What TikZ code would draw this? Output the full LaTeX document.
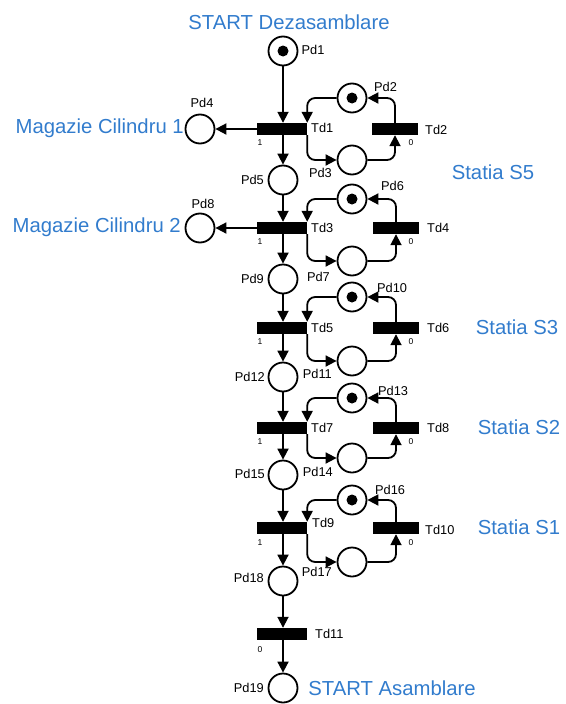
\documentclass[tikz,border=0pt]{standalone}
\usepackage{fontspec}
\setmainfont{Liberation Sans}
\usetikzlibrary{arrows.meta}
\definecolor{titleblue}{RGB}{50,124,205}
\tikzset{
  place/.style={circle,draw,line width=1.8pt,minimum size=29pt,inner sep=0pt},
  token/.style={path picture={\fill (path picture bounding box.center) circle (5.5pt);}},
  trans/.style={rectangle,fill=black,minimum height=12pt,inner sep=0pt},
  mainT/.style={trans,minimum width=50pt},
  sideT/.style={trans,minimum width=46pt},
  arc/.style={line width=1.8pt,-{Triangle[length=11pt,width=11pt]}},
  loop/.style={arc,rounded corners=8pt},
  lbl/.style={font=\fontsize{12.8}{14}\selectfont,inner sep=0pt},
  num/.style={font=\fontsize{8.5}{9}\selectfont,inner sep=0pt},
  caption/.style={font=\fontsize{20.3}{23}\selectfont,text=titleblue,inner sep=0pt}
}
\begin{document}
\begin{tikzpicture}[x=1pt,y=-1pt]
\useasboundingbox (0,0) rectangle (565,704);

% main column of places and transitions
\node[place,token] (Pd1)  at (283,51)  {};
\node[mainT]       (Td1)  at (282,129) {};
\node[place]       (Pd5)  at (283,180) {};
\node[mainT]       (Td3)  at (282,228) {};
\node[place]       (Pd9)  at (283,279) {};
\node[mainT]       (Td5)  at (282,328) {};
\node[place]       (Pd12) at (283,377) {};
\node[mainT]       (Td7)  at (282,428) {};
\node[place]       (Pd15) at (283,475) {};
\node[mainT]       (Td9)  at (282,528) {};
\node[place]       (Pd18) at (283,581) {};
\node[mainT]       (Td11) at (282,634) {};
\node[place]       (Pd19) at (283,688) {};

% storage places on the left
\node[place] (Pd4) at (200,129) {};
\node[place] (Pd8) at (200,228) {};

% station loops
\node[place,token] (Pd2)  at (352,98)  {};
\node[place]       (Pd3)  at (352,160) {};
\node[sideT]       (Td2)  at (395,129) {};
\node[place,token] (Pd6)  at (352,199) {};
\node[place]       (Pd7)  at (352,261) {};
\node[sideT]       (Td4)  at (396,228) {};
\node[place,token] (Pd10) at (352,297) {};
\node[place]       (Pd11) at (352,361) {};
\node[sideT]       (Td6)  at (396,328) {};
\node[place,token] (Pd13) at (352,398) {};
\node[place]       (Pd14) at (352,458) {};
\node[sideT]       (Td8)  at (396,428) {};
\node[place,token] (Pd16) at (352,500) {};
\node[place]       (Pd17) at (352,562) {};
\node[sideT]       (Td10) at (396,528) {};

% main flow arcs
\draw[arc] (Pd1)  -- (Pd1 |- Td1.north);
\draw[arc] (Pd1 |- Td1.south) -- (Pd5);
\draw[arc] (Pd5)  -- (Pd5 |- Td3.north);
\draw[arc] (Pd5 |- Td3.south) -- (Pd9);
\draw[arc] (Pd9)  -- (Pd9 |- Td5.north);
\draw[arc] (Pd9 |- Td5.south) -- (Pd12);
\draw[arc] (Pd12) -- (Pd12 |- Td7.north);
\draw[arc] (Pd12 |- Td7.south) -- (Pd15);
\draw[arc] (Pd15) -- (Pd15 |- Td9.north);
\draw[arc] (Pd15 |- Td9.south) -- (Pd18);
\draw[arc] (Pd18) -- (Pd18 |- Td11.north);
\draw[arc] (Pd18 |- Td11.south) -- (Pd19);
\draw[arc] (Td1.west) -- (Pd4);
\draw[arc] (Td3.west) -- (Pd8);

% resource loops of the stations
\foreach \tm/\ts/\pu/\pl in {Td1/Td2/Pd2/Pd3, Td3/Td4/Pd6/Pd7, Td5/Td6/Pd10/Pd11,
                             Td7/Td8/Pd13/Pd14, Td9/Td10/Pd16/Pd17}{
  \draw[loop] (\pu.west) -| (\tm.north east);
  \draw[loop] (\tm.south east) |- (\pl.west);
  \draw[loop] (\pl.east) -| (\ts.south);
  \draw[loop] (\ts.north) |- (\pu.east);
}

% place labels
\node[lbl] at (313,50)  {Pd1};
\node[lbl,anchor=west] at (374,87)  {Pd2};
\node[lbl,anchor=east] at (332,173) {Pd3};
\node[lbl] at (202,103) {Pd4};
\node[lbl,anchor=east] at (264,180) {Pd5};
\node[lbl,anchor=west] at (381,186) {Pd6};
\node[lbl,anchor=east] at (330,277) {Pd7};
\node[lbl] at (203,204) {Pd8};
\node[lbl,anchor=east] at (264,279) {Pd9};
\node[lbl,anchor=west] at (377,288) {Pd10};
\node[lbl,anchor=east] at (332,374) {Pd11};
\node[lbl,anchor=east] at (265,377) {Pd12};
\node[lbl,anchor=west] at (378,391) {Pd13};
\node[lbl,anchor=east] at (333,472) {Pd14};
\node[lbl,anchor=east] at (265,474) {Pd15};
\node[lbl,anchor=west] at (375,490) {Pd16};
\node[lbl,anchor=east] at (332,572) {Pd17};
\node[lbl,anchor=east] at (264,578) {Pd18};
\node[lbl,anchor=east] at (264,688) {Pd19};

% transition labels
\node[lbl,anchor=west] at (311,128) {Td1};
\node[lbl,anchor=west] at (425,130) {Td2};
\node[lbl,anchor=west] at (311,228) {Td3};
\node[lbl,anchor=west] at (427,228) {Td4};
\node[lbl,anchor=west] at (311,328) {Td5};
\node[lbl,anchor=west] at (427,328) {Td6};
\node[lbl,anchor=west] at (311,428) {Td7};
\node[lbl,anchor=west] at (427,428) {Td8};
\node[lbl,anchor=west] at (312,523) {Td9};
\node[lbl,anchor=west] at (425,530) {Td10};
\node[lbl,anchor=west] at (315,634) {Td11};

% priority marks under the transitions
\foreach \y in {143,242,342,442,543}{
  \node[num] at (260,\y) {1};
  \node[num] at (411,\y) {0};
}
\node[num] at (260,650) {0};

% captions
\node[caption] at (289,22) {START Dezasamblare};
\node[caption,anchor=east] at (184,128) {Magazie Cilindru 1};
\node[caption,anchor=east] at (181,227) {Magazie Cilindru 2};
\node[caption] at (493,172) {Statia S5};
\node[caption] at (517,327) {Statia S3};
\node[caption] at (519,427) {Statia S2};
\node[caption] at (519,527) {Statia S1};
\node[caption] at (392,688) {START Asamblare};
\end{tikzpicture}
\end{document}
